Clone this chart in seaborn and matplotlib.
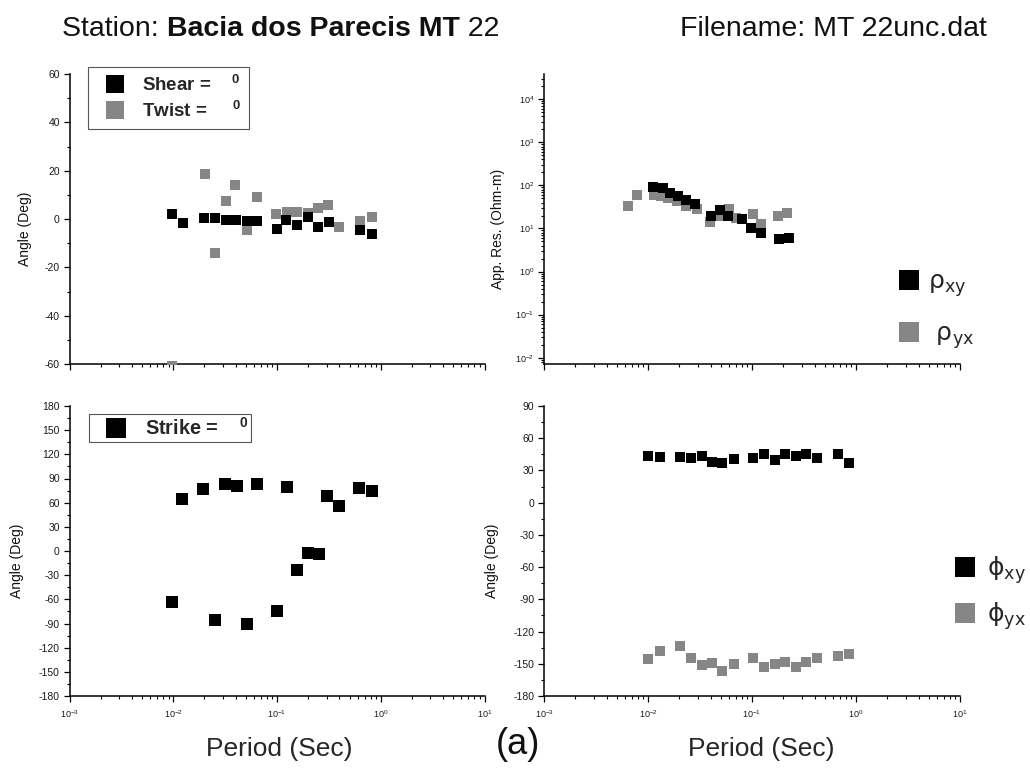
import numpy as np
import matplotlib
matplotlib.use("Agg")
import matplotlib.pyplot as plt
import seaborn as sns
from matplotlib.lines import Line2D
from matplotlib.ticker import (FixedLocator, LogFormatterSciNotation, LogLocator,
                               MultipleLocator, NullFormatter)

# ---- Shear / twist angles (deg) ----
shear_period = [0.0097, 0.0124, 0.0199, 0.0252, 0.032, 0.0406, 0.0514, 0.0646,
                0.1007, 0.121, 0.157, 0.198, 0.247, 0.319, 0.63, 0.818]
shear_angle = [2.0, -1.5, 0.5, 0.5, -0.5, -0.5, -1.0, -1.0,
               -4.3, -0.4, -2.3, 1.0, -3.2, -1.2, -4.4, -6.2]
twist_period = [0.0098, 0.0202, 0.0252, 0.032, 0.0394, 0.0514, 0.0646, 0.0977,
                0.124, 0.157, 0.198, 0.25, 0.313, 0.396, 0.63, 0.818]
twist_angle = [-61.0, 18.5, -13.9, 7.3, 14.2, -4.7, 9.2, 1.9,
               3.0, 3.0, 2.3, 4.7, 5.9, -3.2, -0.8, 0.7]

# ---- Strike angle (deg) ----
strike_period = [0.0098, 0.0121, 0.0194, 0.0252, 0.0315, 0.0414, 0.051, 0.0646,
                 0.1, 0.125, 0.157, 0.2, 0.256, 0.303, 0.398, 0.612, 0.818]
strike_angle = [-62.8, 64.4, 77.3, -86.0, 83.0, 80.2, -90.5, 83.5,
                -74.3, 78.9, -23.4, -2.7, -4.0, 68.6, 55.7, 78.0, 74.0]

# ---- Apparent resistivity (Ohm-m) ----
rho_xy_period = [0.0111, 0.0138, 0.0164, 0.0194, 0.0232, 0.0282, 0.0407, 0.0495,
                 0.0584, 0.081, 0.097, 0.1216, 0.181, 0.229]
rho_xy = [92.0, 86.0, 68.0, 56.0, 47.0, 37.0, 19.5, 27.0,
          19.5, 17.0, 10.0, 7.9, 5.7, 6.1]
rho_yx_period = [0.00636, 0.0079, 0.0113, 0.01346, 0.01573, 0.0191, 0.0232, 0.0294,
                 0.0395, 0.0488, 0.0597, 0.0703, 0.103, 0.1216, 0.178, 0.2167]
rho_yx = [33.0, 60.0, 60.0, 58.0, 52.0, 43.0, 34.0, 29.0,
          14.0, 20.0, 28.0, 18.0, 22.0, 12.5, 19.0, 23.3]

# ---- Impedance phase (deg) ----
phase_period = [0.01, 0.0129, 0.0202, 0.026, 0.033, 0.041, 0.052, 0.0667,
                0.102, 0.13, 0.165, 0.208, 0.263, 0.33, 0.42, 0.677, 0.85]
phi_xy = [43.7, 42.5, 42.5, 41.2, 43.7, 37.5, 37.2, 40.6,
          41.2, 45.0, 39.4, 45.0, 43.7, 45.0, 41.5, 45.0, 37.2]
phi_yx = [-145.8, -138.0, -133.7, -144.6, -151.4, -149.2, -157.0, -150.4,
          -144.6, -152.7, -150.4, -148.0, -152.7, -148.0, -144.9, -142.7, -140.5]

# Axis ranges and decade ticks
period_decades = [1e-3, 1e-2, 1e-1, 1e0, 1e1]
res_decades = [1e-2, 1e-1, 1e0, 1e1, 1e2, 1e3, 1e4]

BLACK = "#000000"
GREY = "#868686"

sns.set_theme(style="ticks")
base = "Liberation Sans"
plt.rcParams["font.family"] = [base, "DejaVu Sans"]
plt.rcParams["mathtext.fontset"] = "custom"
plt.rcParams["mathtext.rm"] = base
plt.rcParams["mathtext.bf"] = base + ":bold"
plt.rcParams["mathtext.it"] = base
plt.rcParams["axes.unicode_minus"] = False
plt.rcParams["axes.linewidth"] = 1.1
plt.rcParams["axes.edgecolor"] = "black"

W, H = 1030, 773
fig = plt.figure(figsize=(W / 100, H / 100), dpi=100)


def px_axes(x0, x1, ytop, ybot):
    return fig.add_axes([x0 / W, 1 - ybot / H, (x1 - x0) / W, (ybot - ytop) / H])


ax_tl = px_axes(69.5, 484.5, 74, 364)
ax_bl = px_axes(69.5, 484.5, 406, 696)
ax_tr = px_axes(544, 960, 74, 364)
ax_br = px_axes(544, 960, 406, 696)

for ax in (ax_tl, ax_bl, ax_tr, ax_br):
    ax.set_xscale("log")
    ax.set_xlim(period_decades[0], period_decades[-1])
    ax.xaxis.set_major_locator(FixedLocator(period_decades))
    ax.xaxis.set_major_formatter(LogFormatterSciNotation())
    ax.xaxis.set_minor_locator(FixedLocator(
        [d * k for d in period_decades[:-1] for k in range(2, 10)]))
    ax.xaxis.set_minor_formatter(NullFormatter())
    ax.tick_params(which="major", direction="out", length=4, width=0.9,
                   color="black", labelsize=7, labelcolor="#1a1a1a", pad=3)
    ax.tick_params(which="minor", direction="out", length=2.2, width=0.8, color="black")
    ax.set_facecolor("white")
    sns.despine(ax=ax)

for ax in (ax_tl, ax_tr):
    ax.tick_params(axis="x", which="both", labelbottom=False)

for ax in (ax_bl, ax_br):
    ax.tick_params(axis="x", labelsize=6.5, pad=5)

for ax in (ax_tl, ax_bl, ax_br):
    ax.tick_params(axis="y", labelsize=7.5)

# Shear and twist
sns.scatterplot(x=twist_period, y=twist_angle, ax=ax_tl, marker="s", s=48,
                color=GREY, linewidth=0, legend=False, zorder=3)
sns.scatterplot(x=shear_period, y=shear_angle, ax=ax_tl, marker="s", s=48,
                color=BLACK, linewidth=0, legend=False, zorder=4)
ax_tl.set_ylim(-60, 60)
ax_tl.yaxis.set_major_locator(MultipleLocator(20))
ax_tl.yaxis.set_minor_locator(MultipleLocator(10))

# Strike
sns.scatterplot(x=strike_period, y=strike_angle, ax=ax_bl, marker="s", s=80,
                color=BLACK, linewidth=0, legend=False, zorder=4)
ax_bl.set_ylim(-180, 180)
ax_bl.yaxis.set_major_locator(MultipleLocator(30))
ax_bl.yaxis.set_minor_locator(MultipleLocator(15))

# Apparent resistivity
sns.scatterplot(x=rho_yx_period, y=rho_yx, ax=ax_tr, marker="s", s=42,
                color=GREY, linewidth=0, legend=False, zorder=3)
sns.scatterplot(x=rho_xy_period, y=rho_xy, ax=ax_tr, marker="s", s=42,
                color=BLACK, linewidth=0, legend=False, zorder=4)
ax_tr.set_yscale("log")
ax_tr.set_ylim(10 ** -2.146, 10 ** 4.587)
ax_tr.yaxis.set_major_locator(FixedLocator(res_decades))
ax_tr.yaxis.set_major_formatter(LogFormatterSciNotation())
ax_tr.yaxis.set_minor_locator(FixedLocator(
    [d * k for d in [1e-3] + res_decades for k in range(2, 10)
     if 10 ** -2.146 < d * k < 10 ** 4.587]))
ax_tr.yaxis.set_minor_formatter(NullFormatter())
ax_tr.tick_params(axis="y", labelsize=6.5)

# Phase
sns.scatterplot(x=phase_period, y=phi_yx, ax=ax_br, marker="s", s=42,
                color=GREY, linewidth=0, legend=False, zorder=3)
sns.scatterplot(x=phase_period, y=phi_xy, ax=ax_br, marker="s", s=42,
                color=BLACK, linewidth=0, legend=False, zorder=4)
ax_br.set_ylim(-180, 90)
ax_br.yaxis.set_major_locator(MultipleLocator(30))
ax_br.yaxis.set_minor_locator(MultipleLocator(15))

# Axis labels
ylab_kw = dict(fontsize=10, color="#111111")
ax_tl.set_ylabel("Angle (Deg)", **ylab_kw)
ax_tl.yaxis.set_label_coords(-0.090, 0.466)
ax_bl.set_ylabel("Angle (Deg)", **ylab_kw)
ax_bl.yaxis.set_label_coords(-0.110, 0.466)
ax_tr.set_ylabel("App. Res. (Ohm-m)", **ylab_kw)
ax_tr.yaxis.set_label_coords(-0.094, 0.466)
ax_br.set_ylabel("Angle (Deg)", **ylab_kw)
ax_br.yaxis.set_label_coords(-0.108, 0.466)

for ax in (ax_tl, ax_tr):
    ax.set_xlabel("")
ax_bl.set_xlabel("Period (Sec)", fontsize=19)
ax_bl.xaxis.set_label_coords(0.505, -0.14)
ax_br.set_xlabel("Period (Sec)", fontsize=19)
ax_br.xaxis.set_label_coords(0.522, -0.14)


def square(color, size):
    return Line2D([], [], marker="s", linestyle="none", markersize=size,
                  markerfacecolor=color, markeredgewidth=0)


# Boxed legends on the left
sup = r"$^{\mathbf{0}}$"
leg = ax_tl.legend([square(BLACK, 13), square(GREY, 13)],
                   ["Shear =    " + sup, "Twist =     " + sup],
                   loc="upper left", bbox_to_anchor=(0.0446, 1.024),
                   borderaxespad=0, prop=dict(family=base, weight="bold", size=13.5),
                   handlelength=2.0, handletextpad=0.45, borderpad=0.42,
                   labelspacing=0.3, frameon=True, fancybox=False,
                   edgecolor="#555555", framealpha=1)
leg.get_frame().set_linewidth(0.8)

leg = ax_bl.legend([square(BLACK, 14.5)], ["Strike =    " + sup],
                   loc="upper left", bbox_to_anchor=(0.047, 0.972),
                   borderaxespad=0, prop=dict(family=base, weight="bold", size=14.3),
                   handlelength=2.4, handletextpad=0.25, borderpad=0.15,
                   frameon=True, fancybox=False, edgecolor="#555555", framealpha=1)
leg.get_frame().set_linewidth(0.8)

# Unboxed legends on the right
rho_leg = ax_tr.legend([square(BLACK, 14), square(GREY, 14)],
                       ["ρ$_{\\mathregular{xy}}$", " ρ$_{\\mathregular{yx}}$"],
                       loc="upper left", bbox_to_anchor=(0.83, 0.361),
                       borderaxespad=0, prop=dict(family="DejaVu Sans", size=18),
                       handlelength=0.8, handletextpad=0.35, labelspacing=0.93,
                       frameon=False)
phi_leg = ax_br.legend([square(BLACK, 14), square(GREY, 14)],
                       ["ϕ$_{\\mathregular{xy}}$", "ϕ$_{\\mathregular{yx}}$"],
                       loc="upper left", bbox_to_anchor=(0.965, 0.522),
                       borderaxespad=0, prop=dict(family="DejaVu Sans", size=18),
                       handlelength=0.8, handletextpad=0.45, labelspacing=0.54,
                       frameon=False)

# Header line
fig.canvas.draw()
renderer = fig.canvas.get_renderer()
x = 62 / W
y = 1 - 36 / H
for part, weight in (("Station: ", "normal"), ("Bacia dos Parecis MT", "bold"), (" 22", "normal")):
    t = fig.text(x, y, part, fontsize=20.5, weight=weight,
                 ha="left", va="baseline", color="#111111")
    bb = t.get_window_extent(renderer)
    x += bb.width / W
fig.text(680 / W, y, "Filename: MT 22unc.dat", fontsize=20.5,
         ha="left", va="baseline", color="#111111")

fig.text(518 / W, 1 - 745 / H, "(a)", fontsize=26,
         ha="center", va="center", color="#111111")

fig.savefig("out.png", dpi=100, facecolor="white")
